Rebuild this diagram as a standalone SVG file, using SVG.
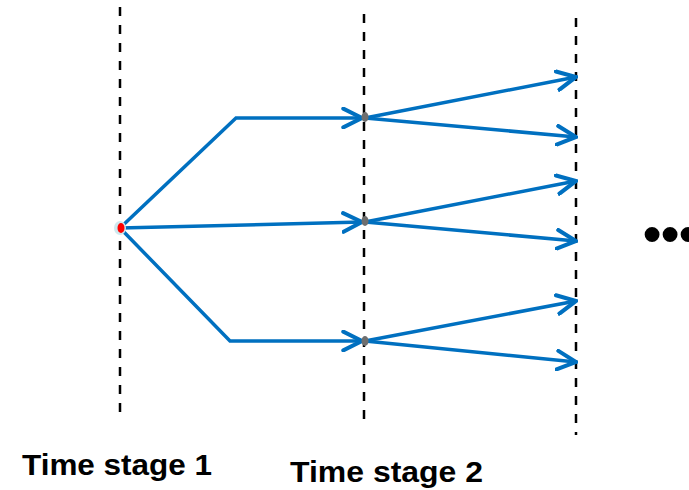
<svg xmlns="http://www.w3.org/2000/svg" width="689" height="490" viewBox="0 0 689 490">
  <defs>
    <style>
      .stage { stroke: #000; stroke-width: 2.5; stroke-dasharray: 9 9; fill: none; }
      .edge { stroke: #0070C0; stroke-width: 3.5; fill: none; stroke-linejoin: miter; }
      .arrow { marker-end: url(#chev); }
      .label { font-family: "Liberation Sans", Arial, sans-serif; font-weight: bold; font-size: 30px; fill: #000; }
    </style>
    <marker id="chev" viewBox="0 0 12 12" refX="11" refY="6" markerWidth="6.4" markerHeight="6.4" orient="auto" markerUnits="strokeWidth">
      <path d="M1,1 L11,6 L1,11" fill="none" stroke="#0070C0" stroke-width="2.2" stroke-linecap="round" stroke-linejoin="miter"/>
    </marker>
  </defs>

  <rect width="689" height="490" fill="#fff"/>

  <!-- stage boundaries -->
  <g id="stage-lines">
    <line class="stage" x1="120" y1="7" x2="120" y2="421"/>
    <line class="stage" x1="364" y1="14" x2="364" y2="428"/>
    <line class="stage" x1="576" y1="18" x2="576" y2="435"/>
  </g>

  <!-- branches -->
  <g id="connectors">
    <polyline class="edge arrow" points="120,228 236,118 362,118"/>
    <line class="edge arrow" x1="120" y1="228" x2="362" y2="222"/>
    <polyline class="edge arrow" points="120,228 230,341 362,341"/>

    <line class="edge arrow" x1="365" y1="118" x2="576" y2="77"/>
    <line class="edge arrow" x1="365" y1="118" x2="576" y2="137"/>
    <line class="edge arrow" x1="365" y1="222" x2="576" y2="181"/>
    <line class="edge arrow" x1="365" y1="222" x2="576" y2="241"/>
    <line class="edge arrow" x1="365" y1="341" x2="576" y2="301"/>
    <line class="edge arrow" x1="365" y1="341" x2="576" y2="362"/>
  </g>

  <!-- decision points -->
  <g id="root">
    <ellipse cx="120" cy="228" rx="6" ry="7" fill="#CFE8EE"/>
    <ellipse cx="121" cy="228" rx="3.5" ry="5" fill="#FF0000"/>
  </g>
  <g id="node-top"><ellipse cx="365" cy="117" rx="3.5" ry="5" fill="#6E6E6E"/></g>
  <g id="node-mid"><ellipse cx="365" cy="221" rx="3.5" ry="5" fill="#6E6E6E"/></g>
  <g id="node-bot"><ellipse cx="365" cy="341" rx="3.5" ry="5" fill="#6E6E6E"/></g>

  <!-- continuation mark -->
  <g id="ellipsis">
    <text x="643" y="252" font-family="Liberation Sans, Arial, sans-serif" font-weight="bold" font-size="52" letter-spacing="-0.2">•••</text>
  </g>

  <!-- labels -->
  <g id="label-stage1"><text class="label" x="22" y="475" textLength="190" lengthAdjust="spacingAndGlyphs">Time stage 1</text></g>
  <g id="label-stage2"><text class="label" x="290" y="482" textLength="193" lengthAdjust="spacingAndGlyphs">Time stage 2</text></g>
</svg>
